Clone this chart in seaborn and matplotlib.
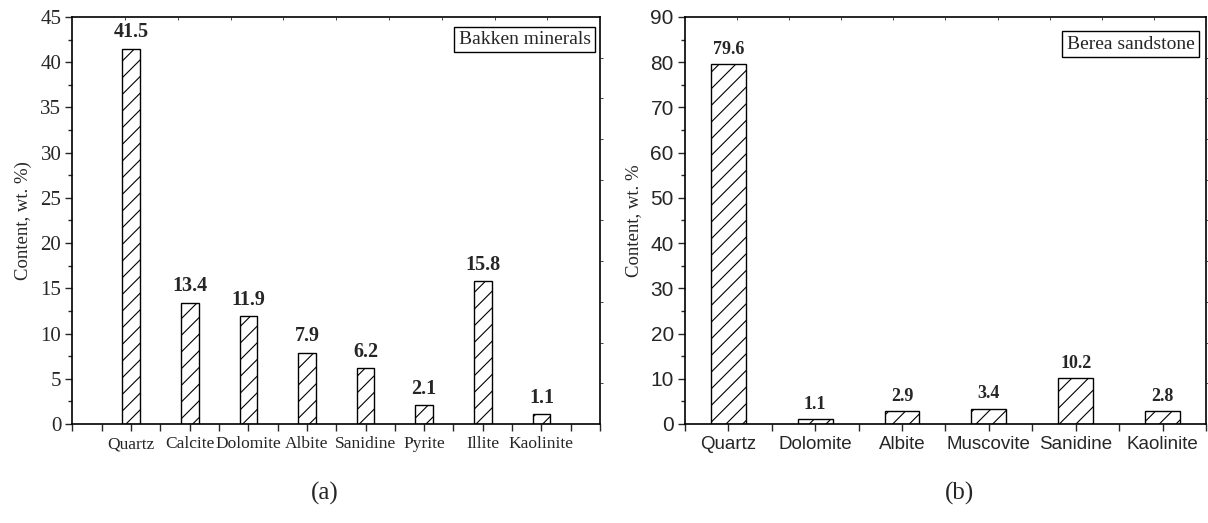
import matplotlib
matplotlib.use("Agg")
import matplotlib.pyplot as plt
import seaborn as sns
import pandas as pd
from matplotlib.ticker import MultipleLocator

bakken_minerals = ["Quartz", "Calcite", "Dolomite", "Albite", "Sanidine", "Pyrite", "Illite", "Kaolinite"]
bakken_values = [41.5, 13.4, 11.9, 7.9, 6.2, 2.1, 15.8, 1.1]
berea_minerals = ["Quartz", "Dolomite", "Albite", "Muscovite", "Sanidine", "Kaolinite"]
berea_values = [79.6, 1.1, 2.9, 3.4, 10.2, 2.8]

sns.set_theme(style="white")
plt.rcParams['font.family'] = ['Liberation Serif', 'DejaVu Serif']
plt.rcParams['hatch.linewidth'] = 0.8

fig = plt.figure(figsize=(12.08, 5.23), dpi=100)
ax1 = fig.add_axes([0.0600, 0.1893, 0.4367, 0.7782])
ax2 = fig.add_axes([0.5670, 0.1893, 0.4313, 0.7782])

df1 = pd.DataFrame({"mineral": bakken_minerals, "value": bakken_values})
df2 = pd.DataFrame({"mineral": berea_minerals, "value": berea_values})

sns.barplot(data=df1, x="mineral", y="value", color="white", edgecolor="black",
            linewidth=1.0, width=0.3, ax=ax1, saturation=1)
sns.barplot(data=df2, x="mineral", y="value", color="white", edgecolor="black",
            linewidth=1.0, width=0.4, ax=ax2, saturation=1)

for ax in (ax1, ax2):
    for p in ax.patches:
        p.set_hatch("//")
        p.set_facecolor("white")
        p.set_edgecolor("black")
    for s in ax.spines.values():
        s.set_visible(True)
        s.set_color("black")
        s.set_linewidth(1.2)


def mirror_ticks(ax):
    # faint ticks on top and right spines, 10 divisions each
    tx = ax.twiny()
    tx.set_xlim(0, 10)
    tx.set_xticks(range(1, 10))
    tx.tick_params(axis="x", direction="in", length=2.5, width=0.6, labeltop=False, top=True)
    ty = ax.twinx()
    ty.set_ylim(0, 10)
    ty.set_yticks(range(1, 10))
    ty.tick_params(axis="y", direction="out", length=2.5, width=0.6, labelright=False, right=True)
    for a in (tx, ty):
        for s in a.spines.values():
            s.set_visible(False)
        a.grid(False)


# Left panel
ax1.set_xlim(-1, 8)
ax1.set_ylim(0, 45)
ax1.yaxis.set_major_locator(MultipleLocator(5))
ax1.yaxis.set_minor_locator(MultipleLocator(2.5))
ax1.xaxis.set_minor_locator(MultipleLocator(0.5))
ax1.set_xlabel("")
ax1.set_ylabel("Content, wt. %)", fontsize=13.5, family="Liberation Serif", labelpad=6)
ax1.tick_params(axis="y", which="major", direction="out", length=5, width=1, labelsize=15, left=True, pad=3)
ax1.tick_params(axis="y", which="minor", direction="out", length=3, width=1, left=True)
ax1.tick_params(axis="x", which="major", direction="out", length=5, width=1, labelsize=12.5, bottom=True, pad=4)
ax1.tick_params(axis="x", which="minor", direction="out", length=5, width=1, bottom=True)
for lbl in ax1.get_xticklabels() + ax1.get_yticklabels():
    lbl.set_family("Liberation Serif")
for i, v in enumerate(bakken_values):
    ax1.text(i, v + 0.7, f"{v}", ha="center", va="bottom", fontsize=14.5,
             fontweight="bold", family="Liberation Serif")
ax1.text(0.982, 0.966, "Bakken minerals", transform=ax1.transAxes, ha="right", va="top",
         fontsize=14, family="Liberation Serif",
         bbox=dict(boxstyle="square,pad=0.22", facecolor="white", edgecolor="black", linewidth=1))
mirror_ticks(ax1)

# Right panel
ax2.set_xlim(-0.5, 5.5)
ax2.set_ylim(0, 90)
ax2.yaxis.set_major_locator(MultipleLocator(10))
ax2.yaxis.set_minor_locator(MultipleLocator(5))
ax2.xaxis.set_minor_locator(MultipleLocator(0.5))
ax2.set_xlabel("")
ax2.set_ylabel("Content, wt. %", fontsize=13.5, family="Liberation Serif", labelpad=6)
ax2.tick_params(axis="y", which="major", direction="out", length=5, width=1, labelsize=15, left=True, pad=3)
ax2.tick_params(axis="y", which="minor", direction="out", length=3, width=1, left=True)
ax2.tick_params(axis="x", which="major", direction="out", length=5, width=1, labelsize=13.5, bottom=True, pad=4)
ax2.tick_params(axis="x", which="minor", direction="out", length=5, width=1, bottom=True)
for lbl in ax2.get_xticklabels() + ax2.get_yticklabels():
    lbl.set_family("Liberation Sans")
for i, v in enumerate(berea_values):
    ax2.text(i, v + 1.4, f"{v}", ha="center", va="bottom", fontsize=13,
             fontweight="bold", family="Liberation Serif")
ax2.text(0.978, 0.954, "Berea sandstone", transform=ax2.transAxes, ha="right", va="top",
         fontsize=14, family="Liberation Serif",
         bbox=dict(boxstyle="square,pad=0.22", facecolor="white", edgecolor="black", linewidth=1))
mirror_ticks(ax2)

fig.text(325 / 1208, 1 - 493 / 523, "(a)", ha="center", va="center", fontsize=18, family="Liberation Serif")
fig.text(960 / 1208, 1 - 493 / 523, "(b)", ha="center", va="center", fontsize=18, family="Liberation Serif")

fig.savefig("out.png", dpi=100)
